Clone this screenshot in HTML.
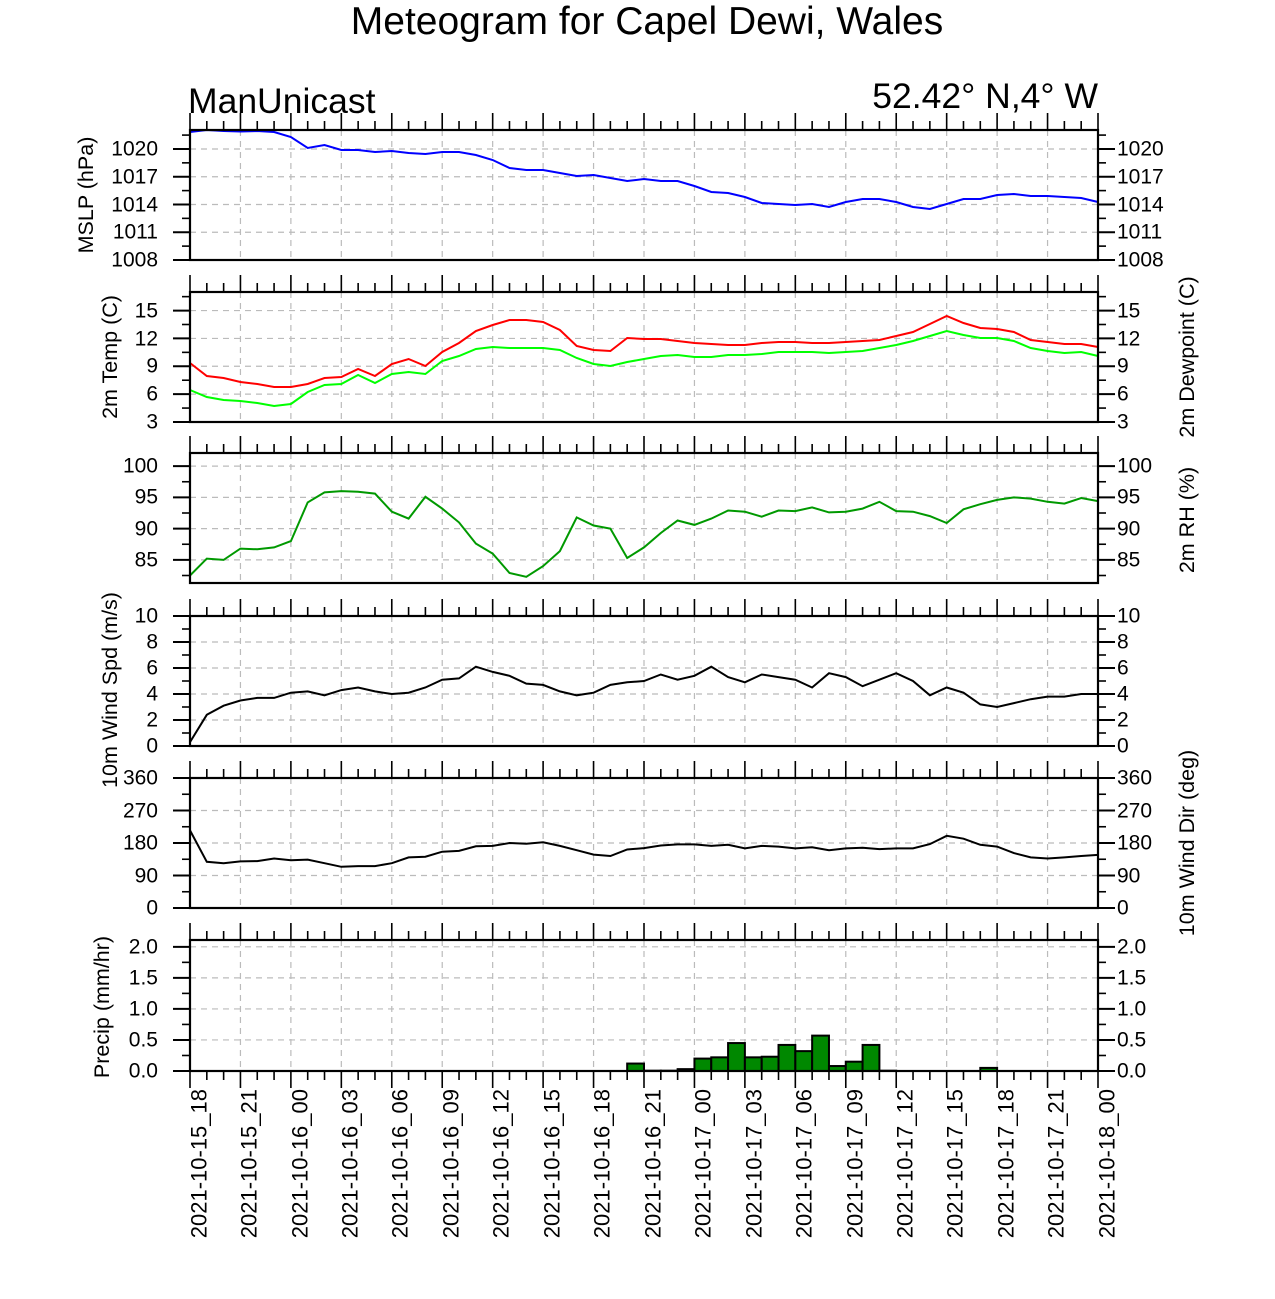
<!DOCTYPE html>
<html><head><meta charset="utf-8"><style>
html,body{margin:0;padding:0;background:#fff;}
svg{display:block;font-family:"Liberation Sans",Arial,sans-serif;}
</style></head><body>
<svg id="s" width="1275" height="1299" viewBox="0 0 1275 1299" xmlns="http://www.w3.org/2000/svg">
<rect width="1275" height="1299" fill="#fff"/>
<g id="grid"></g>
<g id="data"></g>
<g id="frames"></g>
<text x="647" y="34" font-size="39" text-anchor="middle">Meteogram for Capel Dewi, Wales</text>
<text x="188" y="113" font-size="35.5">ManUnicast</text>
<text x="1098" y="108" font-size="35.5" text-anchor="end">52.42° N,4° W</text>
<g font-size="21" text-anchor="end" dominant-baseline="central">
<text x="158" y="260">1008</text><text x="158" y="232">1011</text><text x="158" y="205">1014</text><text x="158" y="177">1017</text><text x="158" y="149">1020</text>
<text x="158" y="422">3</text><text x="158" y="394">6</text><text x="158" y="366">9</text><text x="158" y="339">12</text><text x="158" y="311">15</text>
<text x="158" y="560">85</text><text x="158" y="529">90</text><text x="158" y="497">95</text><text x="158" y="466">100</text>
<text x="158" y="746">0</text><text x="158" y="720">2</text><text x="158" y="694">4</text><text x="158" y="668">6</text><text x="158" y="642">8</text><text x="158" y="616">10</text>
<text x="158" y="908">0</text><text x="158" y="876">90</text><text x="158" y="843">180</text><text x="158" y="811">270</text><text x="158" y="778">360</text>
<text x="158" y="1071">0.0</text><text x="158" y="1040">0.5</text><text x="158" y="1009">1.0</text><text x="158" y="978">1.5</text><text x="158" y="947">2.0</text>
</g>
<g font-size="21" text-anchor="start" dominant-baseline="central">
<text x="1117" y="260">1008</text><text x="1117" y="232">1011</text><text x="1117" y="205">1014</text><text x="1117" y="177">1017</text><text x="1117" y="149">1020</text>
<text x="1117" y="422">3</text><text x="1117" y="394">6</text><text x="1117" y="366">9</text><text x="1117" y="339">12</text><text x="1117" y="311">15</text>
<text x="1117" y="560">85</text><text x="1117" y="529">90</text><text x="1117" y="497">95</text><text x="1117" y="466">100</text>
<text x="1117" y="746">0</text><text x="1117" y="720">2</text><text x="1117" y="694">4</text><text x="1117" y="668">6</text><text x="1117" y="642">8</text><text x="1117" y="616">10</text>
<text x="1117" y="908">0</text><text x="1117" y="876">90</text><text x="1117" y="843">180</text><text x="1117" y="811">270</text><text x="1117" y="778">360</text>
<text x="1117" y="1071">0.0</text><text x="1117" y="1040">0.5</text><text x="1117" y="1009">1.0</text><text x="1117" y="978">1.5</text><text x="1117" y="947">2.0</text>
</g>
<g font-size="21.5" text-anchor="middle" dominant-baseline="central">
<text transform="translate(86,195) rotate(-90)">MSLP (hPa)</text>
<text transform="translate(110,357) rotate(-90)">2m Temp (C)</text>
<text transform="translate(110,690) rotate(-90)">10m Wind Spd (m/s)</text>
<text transform="translate(102,1007) rotate(-90)">Precip (mm/hr)</text>
<text transform="translate(1187,357) rotate(-90)">2m Dewpoint (C)</text>
<text transform="translate(1187,520) rotate(-90)">2m RH (%)</text>
<text transform="translate(1187,843) rotate(-90)">10m Wind Dir (deg)</text>
</g>
<g font-size="22" text-anchor="end" dominant-baseline="central">
<text transform="translate(199,1089) rotate(-90)">2021-10-15_18</text>
<text transform="translate(249,1089) rotate(-90)">2021-10-15_21</text>
<text transform="translate(300,1089) rotate(-90)">2021-10-16_00</text>
<text transform="translate(350,1089) rotate(-90)">2021-10-16_03</text>
<text transform="translate(400,1089) rotate(-90)">2021-10-16_06</text>
<text transform="translate(451,1089) rotate(-90)">2021-10-16_09</text>
<text transform="translate(501,1089) rotate(-90)">2021-10-16_12</text>
<text transform="translate(552,1089) rotate(-90)">2021-10-16_15</text>
<text transform="translate(602,1089) rotate(-90)">2021-10-16_18</text>
<text transform="translate(653,1089) rotate(-90)">2021-10-16_21</text>
<text transform="translate(703,1089) rotate(-90)">2021-10-17_00</text>
<text transform="translate(754,1089) rotate(-90)">2021-10-17_03</text>
<text transform="translate(804,1089) rotate(-90)">2021-10-17_06</text>
<text transform="translate(855,1089) rotate(-90)">2021-10-17_09</text>
<text transform="translate(905,1089) rotate(-90)">2021-10-17_12</text>
<text transform="translate(955,1089) rotate(-90)">2021-10-17_15</text>
<text transform="translate(1006,1089) rotate(-90)">2021-10-17_18</text>
<text transform="translate(1056,1089) rotate(-90)">2021-10-17_21</text>
<text transform="translate(1107,1089) rotate(-90)">2021-10-18_00</text>
</g>
</svg>
<script>
(function(){
var NS="http://www.w3.org/2000/svg";
function el(p,t,a){var e=document.createElementNS(NS,t);for(var k in a)e.setAttribute(k,a[k]);p.appendChild(e);return e;}
var G=document.getElementById('grid'),D=document.getElementById('data'),F=document.getElementById('frames');
var L=190,R=1098,dx=(R-L)/54;
function X(h){return L+h*dx;}
var P=[
[130,260,1008,1022.05,1008,1020,3,1.5],
[292,422,3,17,3,15,3,1.5],
[453,583,81.3,102.1,85,100,5,2.5],
[616,746,0,10,0,10,2,1],
[778,908,0,360,0,360,90,45],
[940,1071,0,2.11,0,2,0.5,0.25]];
P.forEach(function(p,pi){
 var t=p[0],b=p[1],lo=p[2],hi=p[3];
 function Y(v){return b-(v-lo)/(hi-lo)*(b-t);}
 p.Y=Y;
 for(var v=p[4];v<=p[5]+1e-6;v+=p[6]){var y=Y(v);el(G,'line',{x1:L,x2:R,y1:y,y2:y,stroke:'#bbb','stroke-width':1.2,'stroke-dasharray':'6,5'});}
 for(var h=3;h<54;h+=3){el(G,'line',{x1:X(h),x2:X(h),y1:t,y2:b,stroke:'#bbb','stroke-width':1.2,'stroke-dasharray':'6,5'});}
 for(var h=0;h<=54;h++){var len=(h%3==0)?17:9;
  el(F,'line',{x1:X(h),x2:X(h),y1:t,y2:t-len,stroke:'#000','stroke-width':1.6});
  if(pi==5) el(F,'line',{x1:X(h),x2:X(h),y1:b,y2:b+len,stroke:'#000','stroke-width':1.6});}
 var mi=p[7];
 for(var v=lo-((lo%mi)+mi)%mi;v<=hi+1e-6;v+=mi){if(v<lo-1e-6)continue;var y=Y(v);var maj=Math.abs(((v-p[4])/p[6])-Math.round((v-p[4])/p[6]))<1e-6;var len=maj?17:8;
  el(F,'line',{x1:L,x2:L-len,y1:y,y2:y,stroke:'#000','stroke-width':(maj?2:1.6)});
  el(F,'line',{x1:R,x2:R+len,y1:y,y2:y,stroke:'#000','stroke-width':(maj?2:1.6)});}
 el(F,'rect',{x:L,y:t,width:R-L,height:b-t,fill:'none',stroke:'#000','stroke-width':2.2});
});
function line(pts,c){var s=pts.map(function(v,i){return X(i).toFixed(1)+','+v.toFixed(1);}).join(' ');
 el(D,'polyline',{points:s,fill:'none',stroke:c,'stroke-width':2});}
var mslp=[132,130,131,131.5,131,132,137,148,145,150,150,152,151,153,154,152,152,155,160,168,170,170,173,176,175,178,181,179,181,181,186,192,193,197,203,204,205,204,207,202,199,199,202,207,209,204,199,199,195,194,196,196,197,198,202];
line(mslp,'#0000ff');
var tr=[363,376,378,382,384,387,387,384,378,377,369,376,364,359,366,352,343,331,325,320,320,322,330,346,350,351,338,339,339,341,343,344,345,345,343,342,342,343,343,342,341,340,336,332,324,316,323,328,329,332,340,342,344,344,347];
var tg=[390,397,400,401,403,406,404,392,385,384,375,383,374,372,374,361,356,349,347,348,348,348,350,358,364,366,362,359,356,355,357,357,355,355,354,352,352,352,353,352,351,348,345,341,336,331,335,338,338,341,348,351,353,352,356];
line(tg,'#00ff00');line(tr,'#ff0000');
var rh=[82.5,85.2,85,86.8,86.7,87,88,94.2,95.8,96,95.9,95.6,92.7,91.6,95.1,93.2,91,87.6,86,82.9,82.3,84,86.4,91.8,90.5,90,85.3,87,89.3,91.3,90.6,91.6,92.9,92.7,91.9,92.9,92.8,93.4,92.6,92.7,93.2,94.3,92.8,92.7,92,90.9,93.1,93.9,94.6,95,94.8,94.3,94,94.9,94.4];
line(rh.map(P[2].Y),'#009900');
var ws=[0.3,2.4,3.1,3.5,3.7,3.7,4.1,4.2,3.9,4.3,4.5,4.2,4.0,4.1,4.5,5.1,5.2,6.1,5.7,5.4,4.8,4.7,4.2,3.9,4.1,4.7,4.9,5.0,5.5,5.1,5.4,6.1,5.3,4.9,5.5,5.3,5.1,4.5,5.6,5.3,4.6,5.1,5.6,5.0,3.9,4.5,4.1,3.2,3.0,3.3,3.6,3.8,3.8,4.0,4.0];
line(ws.map(P[3].Y),'#000');
var wd=[215,128,124,129,130,137,132,134,124,114,116,116,124,140,142,156,158,171,172,180,178,182,172,160,148,144,162,166,173,176,176,172,175,165,172,170,165,168,160,165,167,163,165,165,177,200,192,175,170,152,140,137,140,144,147];
line(wd.map(P[4].Y),'#000');
var pr={26:0.12,27:0.005,28:0.005,29:0.03,30:0.2,31:0.22,32:0.45,33:0.22,34:0.23,35:0.42,36:0.32,37:0.57,38:0.08,39:0.15,40:0.42,41:0.005,47:0.05};
var Y6=P[5].Y;
for(var h in pr){var v=pr[h],x=X(+h),y=Y6(v);
 el(D,'rect',{x:x,y:y,width:dx,height:1071-y,fill:'#008800',stroke:'#000','stroke-width':2});}
el(D,'line',{x1:L,x2:R,y1:1071,y2:1071,stroke:'#000','stroke-width':2});
})();
</script>
</body></html>
